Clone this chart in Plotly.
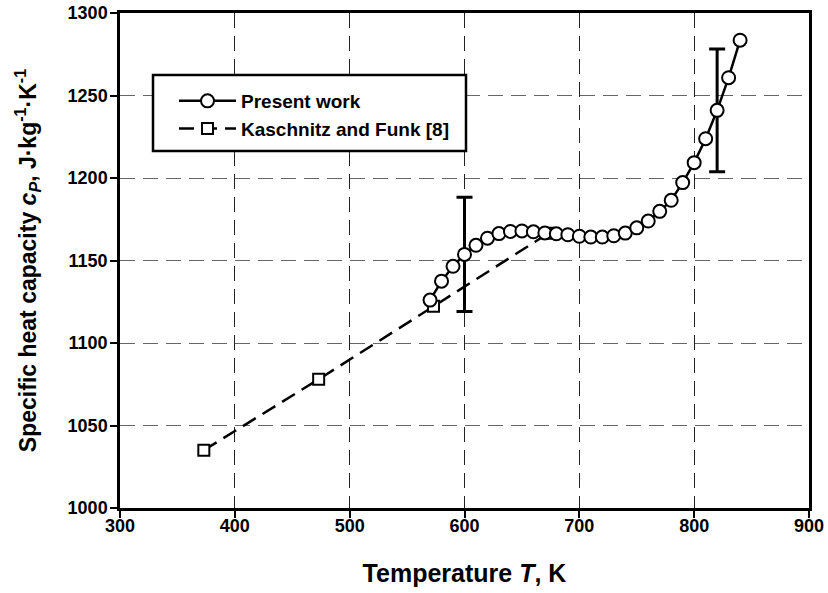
import plotly.graph_objects as go

# Present work
T_present = [570, 580, 590, 600, 610, 620, 630, 640, 650, 660, 670, 680, 690, 700,
             710, 720, 730, 740, 750, 760, 770, 780, 790, 800, 810, 820, 830, 840]
cp_present = [1126.0, 1137.5, 1146.5, 1153.7, 1159.2, 1163.5, 1166.3, 1167.6, 1167.9, 1167.4,
              1166.7, 1166.2, 1165.6, 1164.7, 1164.2, 1164.2, 1165.0, 1166.6, 1169.8, 1173.9,
              1179.8, 1186.5, 1197.2, 1209.3, 1223.8, 1241.0, 1260.8, 1283.5]

# Kaschnitz and Funk [8]
T_kf = [373, 473, 573, 673]
cp_kf = [1035.0, 1078.0, 1122.2, 1166.5]

# Error bars (3 %)
T_err = [600, 820]
cp_err = [1153.7, 1241.0]
err_val = [34.6, 37.2]

x_ticks = [300, 400, 500, 600, 700, 800, 900]
y_ticks = [1000, 1050, 1100, 1150, 1200, 1250, 1300]

FONT = "Liberation Sans, Arial, sans-serif"

# layout geometry (px)
W, H = 828, 593
L, R, T, B = 120, 19, 13, 85
PW, PH = W - L - R, H - T - B

fig = go.Figure()

fig.add_trace(go.Scatter(
    x=T_kf, y=cp_kf, mode="lines+markers", name="Kaschnitz and Funk [8]",
    line=dict(color="black", width=2.5, dash="15px,8px"),
    marker=dict(symbol="square", size=11, color="white", line=dict(color="black", width=2)),
))

fig.add_trace(go.Scatter(
    x=T_err, y=cp_err, mode="markers", showlegend=False,
    marker=dict(size=1, opacity=0),
    error_y=dict(type="data", array=err_val, visible=True, color="black", thickness=3, width=8),
))

fig.add_trace(go.Scatter(
    x=T_present, y=cp_present, mode="lines+markers", name="Present work",
    line=dict(color="black", width=2.5),
    marker=dict(symbol="circle", size=13, color="white", line=dict(color="black", width=2)),
))

axis_common = dict(
    showline=True, linecolor="black", linewidth=2.5, mirror=True,
    ticks="outside", ticklen=7, tickwidth=2, tickcolor="black",
    showgrid=True, gridwidth=1, griddash="15px,8px",
    zeroline=False, automargin=False, ticklabeloverflow="allow",
    tickfont=dict(family=FONT, size=18, color="black", weight="bold"),
)

fig.update_xaxes(
    range=[300, 900], tickvals=x_ticks, ticktext=[str(v) for v in x_ticks],
    gridcolor="#222", ticklabelstandoff=-7,
    title=dict(text="Temperature <i>T</i>, K", standoff=30,
               font=dict(family=FONT, size=25, color="black", weight="bold")),
    **axis_common,
)
fig.update_yaxes(
    range=[1000, 1300], tickvals=y_ticks, ticktext=[str(v) for v in y_ticks],
    gridcolor="#666", ticklabelstandoff=-1,
    title=dict(text="Specific heat capacity <i>c<sub>P</sub></i>, J·kg<sup>-1</sup>·K<sup>-1</sup>",
               standoff=25, font=dict(family=FONT, size=23, color="black", weight="bold")),
    **axis_common,
)

fig.add_shape(type="rect", xref="paper", yref="paper",
              x0=(153 - L) / PW, x1=(466 - L) / PW,
              y0=1 - (151 - T) / PH, y1=1 - (75 - T) / PH,
              line=dict(color="black", width=2.5), fillcolor="white", layer="above")

fig.update_layout(
    width=W, height=H,
    margin=dict(l=L, r=R, t=T, b=B, autoexpand=False),
    plot_bgcolor="white", paper_bgcolor="white",
    font=dict(family=FONT, color="black"),
    legend=dict(
        x=(174 - L) / PW, y=1 - (82 - T) / PH, xanchor="left", yanchor="top",
        bgcolor="rgba(0,0,0,0)", borderwidth=0,
        traceorder="reversed",
        font=dict(family=FONT, size=19, color="black", weight="bold"),
        tracegroupgap=0, itemwidth=57,
    ),
)

fig.write_html(
    "out.html",
    config={"displayModeBar": False},
    post_script="document.body.style.margin='0';document.body.style.overflow='hidden';",
)
